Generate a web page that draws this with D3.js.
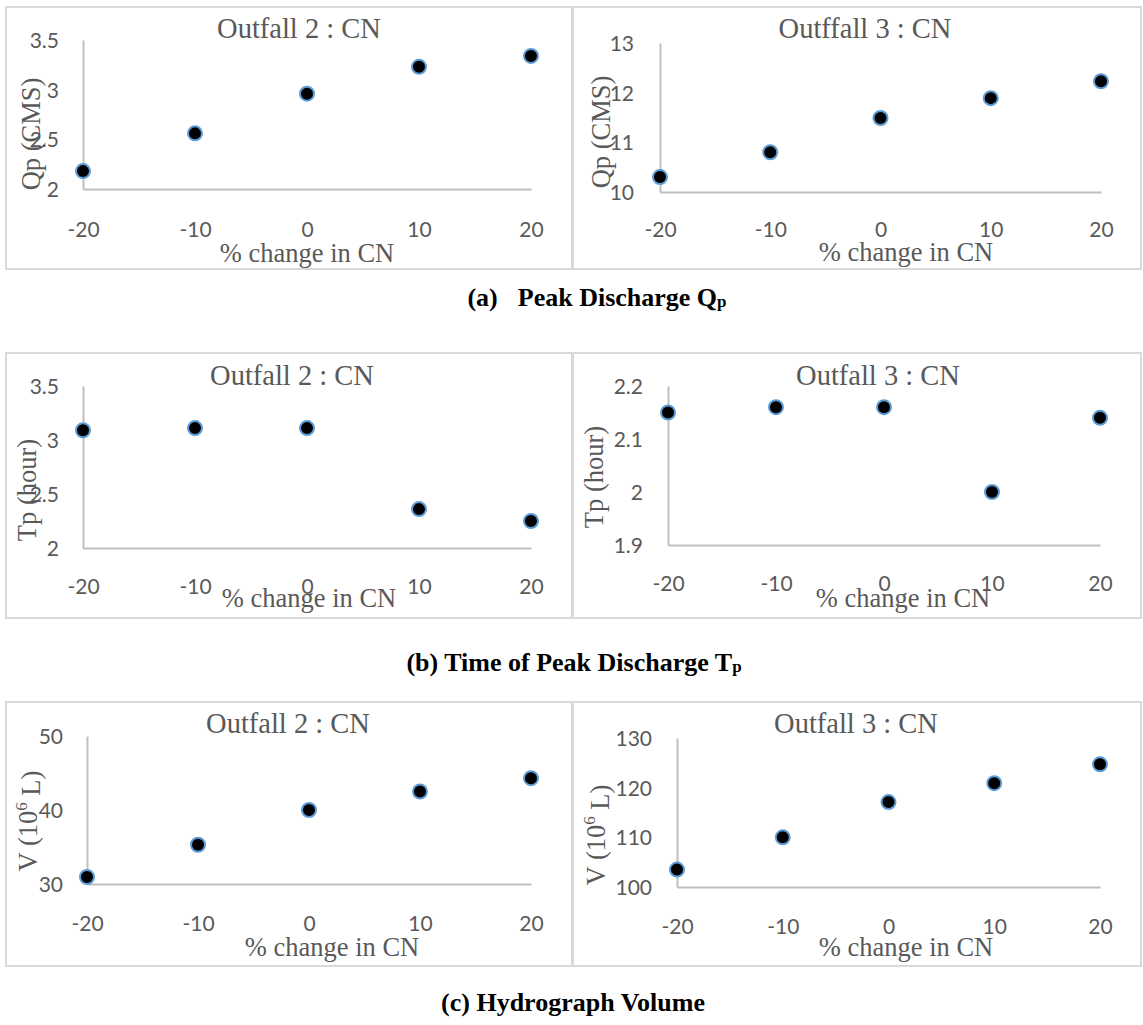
<!DOCTYPE html>
<html>
<head>
<meta charset="utf-8">
<script src="https://cdn.jsdelivr.net/npm/d3@7"></script>
<style>
  body { margin: 0; background: #fff; }
</style>
</head>
<body>
<div id="chart"></div>
<script>
// x values shared by every panel
var cnChange = [-20, -10, 0, 10, 20];

// series
var qpOutfall2 = [2.18, 2.56, 2.96, 3.23, 3.34];
var qpOutfall3 = [10.30, 10.80, 11.49, 11.89, 12.23];
var tpOutfall2 = [3.09, 3.11, 3.11, 2.36, 2.25];
var tpOutfall3 = [2.15, 2.16, 2.16, 2.00, 2.14];
var volOutfall2 = [30.95, 35.3, 40.0, 42.5, 44.3];
var volOutfall3 = [103.5, 110.0, 117.1, 120.9, 124.7];

// y tick labels
var qpTicks2 = [2, 2.5, 3, 3.5];
var qpTicks3 = [10, 11, 12, 13];
var tpTicks2 = [2, 2.5, 3, 3.5];
var tpTicks3 = [1.9, 2, 2.1, 2.2];
var volTicks2 = [30, 40, 50];
var volTicks3 = [100, 110, 120, 130];

var chartTitles = ["Outfall 2 : CN", "Outffall 3 : CN", "Outfall 2 : CN", "Outfall 3 : CN", "Outfall 2 : CN", "Outfall 3 : CN"];
// [text, superscript, text]
var yTitles = [["Qp (CMS)"], ["Qp (CMS)"], ["Tp (hour)"], ["Tp (hour)"], ["V (10", "6", " L)"], ["V (10", "6", " L)"]];
var xTitle = "% change in CN";
// [text, subscript]
var captions = [["(a)", "Peak Discharge Q", "p"], ["(b) Time of Peak Discharge T", "p"], ["(c) Hydrograph Volume"]];

var series = [qpOutfall2, qpOutfall3, tpOutfall2, tpOutfall3, volOutfall2, volOutfall3];
var ticks = [qpTicks2, qpTicks3, tpTicks2, tpTicks3, volTicks2, volTicks3];

// layout of each chart box (page pixels)
var layout = [
  {box: [6, 7, 566, 262],   px: [83, 531], py: [189, 40],  tx: 299, ty: 28,  xly: 230, xtx: 307, xty: 253, ylx: 59,  ytx: 31,  yty: 134},
  {box: [573, 7, 568, 262], px: [660, 1101], py: [192, 43],  tx: 865, ty: 28,  xly: 230, xtx: 906, xty: 252, ylx: 634, ytx: 601, yty: 132},
  {box: [6, 353, 566, 265], px: [83, 531], py: [548, 386], tx: 292, ty: 375, xly: 587, xtx: 309, xty: 598, ylx: 59,  ytx: 27,  yty: 490},
  {box: [573, 353, 568, 265], px: [668, 1100], py: [545, 386], tx: 878, ty: 375, xly: 584, xtx: 903, xty: 598, ylx: 643, ytx: 594, yty: 477},
  {box: [6, 702, 566, 264], px: [87, 531],  py: [884, 736], tx: 288, ty: 723, xly: 924, xtx: 332, xty: 947, ylx: 63,  ytx: 27.5, yty: 821},
  {box: [573, 702, 568, 264], px: [677, 1100], py: [887, 738], tx: 856, ty: 723, xly: 927, xtx: 906, xty: 947, ylx: 652, ytx: 596, yty: 835}
];
var captionPos = [[597, 297], [574, 662], [573, 1002]];

var width = 1143, height = 1025;
var serif = "'Liberation Serif', 'Times New Roman', serif";
var sans = "Lato, 'Liberation Sans', sans-serif";
var textGray = "#595959";

var svg = d3.select("#chart")
  .append("svg")
    .attr("width", width)
    .attr("height", height);

layout.forEach(function(L, i) {
  var g = svg.append("g");

  g.append("rect")
    .attr("x", L.box[0]).attr("y", L.box[1])
    .attr("width", L.box[2]).attr("height", L.box[3])
    .attr("fill", "#fff")
    .attr("stroke", "#d9d9d9")
    .attr("stroke-width", 2);

  var t = ticks[i];
  var x = d3.scaleLinear().domain([-20, 20]).range(L.px);
  var y = d3.scaleLinear().domain([t[0], t[t.length - 1]]).range(L.py);

  // horizontal axis (plain hyphen for negatives, like the original)
  var xAxis = g.append("g")
    .attr("transform", "translate(0," + L.py[0] + ")")
    .call(d3.axisBottom(x).tickValues(cnChange).tickFormat(function(d) { return String(d); })
      .tickSize(0).tickSizeOuter(0));
  xAxis.select(".domain").attr("stroke", "#bfbfbf").attr("stroke-width", 2);
  xAxis.selectAll("text")
    .attr("y", L.xly - L.py[0])
    .attr("dy", "0.35em")
    .attr("fill", textGray)
    .style("font-family", sans)
    .style("font-size", "21px");

  // vertical axis
  var yAxis = g.append("g")
    .attr("transform", "translate(" + L.px[0] + ",0)")
    .call(d3.axisLeft(y).tickValues(t).tickFormat(function(d) { return String(d); })
      .tickSize(0).tickSizeOuter(0));
  yAxis.select(".domain").attr("stroke", "#bfbfbf").attr("stroke-width", 2);
  yAxis.selectAll("text")
    .attr("x", L.ylx - L.px[0])
    .attr("dy", "0.35em")
    .attr("fill", textGray)
    .style("font-family", sans)
    .style("font-size", "21px");

  // points
  g.selectAll("circle")
    .data(series[i])
    .enter().append("circle")
      .attr("cx", function(d, j) { return x(cnChange[j]); })
      .attr("cy", function(d) { return y(d); })
      .attr("r", 7)
      .attr("fill", "#000")
      .attr("stroke", "#5b9bd5")
      .attr("stroke-width", 2);

  // chart title
  g.append("text")
    .attr("x", L.tx).attr("y", L.ty)
    .attr("text-anchor", "middle")
    .attr("dominant-baseline", "central")
    .attr("fill", textGray)
    .style("font-family", serif)
    .style("font-size", "28.5px")
    .text(chartTitles[i]);

  // x title
  g.append("text")
    .attr("x", L.xtx).attr("y", L.xty)
    .attr("text-anchor", "middle")
    .attr("dominant-baseline", "central")
    .attr("fill", textGray)
    .style("font-family", serif)
    .style("font-size", "26.5px")
    .text(xTitle);

  // y title
  var yt = g.append("text")
    .attr("transform", "translate(" + L.ytx + "," + L.yty + ") rotate(-90)")
    .attr("text-anchor", "middle")
    .attr("dominant-baseline", "central")
    .attr("fill", textGray)
    .style("font-family", serif)
    .style("font-size", "26.5px");
  var parts = yTitles[i];
  yt.append("tspan").text(parts[0]);
  if (parts.length > 1) {
    yt.append("tspan").attr("dy", "-0.4em").style("font-size", "17px").text(parts[1]);
    yt.append("tspan").attr("dy", "0.4em").text(parts[2]);
  }
});

// panel captions
captions.forEach(function(c, i) {
  var txt = svg.append("text")
    .attr("x", captionPos[i][0]).attr("y", captionPos[i][1])
    .attr("text-anchor", "middle")
    .attr("dominant-baseline", "central")
    .attr("fill", "#000")
    .style("font-family", serif)
    .style("font-weight", "bold")
    .style("font-size", "26px");
  if (c.length === 3) {
    txt.append("tspan").text(c[0]);
    txt.append("tspan").attr("dx", "20").text(c[1]);
    txt.append("tspan").attr("dy", "0.25em").style("font-size", "17px").text(c[2]);
  } else if (c.length === 2) {
    txt.append("tspan").text(c[0]);
    txt.append("tspan").attr("dy", "0.25em").style("font-size", "17px").text(c[1]);
  } else {
    txt.append("tspan").text(c[0]);
  }
});
</script>
</body>
</html>
